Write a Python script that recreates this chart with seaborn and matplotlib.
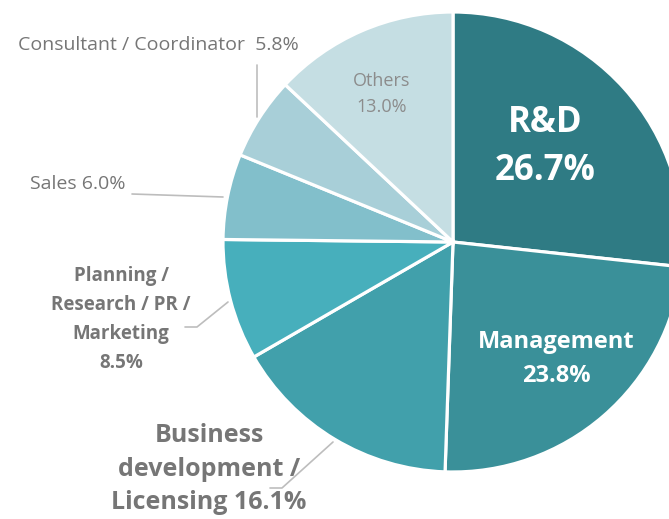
import matplotlib
matplotlib.use("Agg")
import matplotlib.pyplot as plt
import seaborn as sns

# share of staff by job type (clockwise from 12 o'clock)
categories = ["R&D", "Management", "Business development / Licensing",
              "Planning / Research / PR / Marketing", "Sales",
              "Consultant / Coordinator", "Others"]
shares = [26.7, 23.8, 16.1, 8.5, 6.0, 5.8, 13.0]
colors = ["#2f7b84", "#3a9099", "#41a0ab", "#47afbc", "#82bfcb", "#a8cfd8", "#c5dee3"]

sns.set_theme(style="white")
plt.rcParams['font.family'] = ['Open Sans', 'DejaVu Sans']

W, H = 669, 519
cx, cy, R = 453, 242, 230

fig = plt.figure(figsize=(W / 100, H / 100), dpi=100)
ax = fig.add_axes([0, 0, 1, 1])

ax.pie(shares, colors=colors, startangle=90, counterclock=False, radius=1,
       wedgeprops=dict(edgecolor="white", linewidth=2.3))
ax.set_aspect("auto")
ax.set_xlim(-cx / R, (W - cx) / R)
ax.set_ylim(-(H - cy) / R, cy / R)
ax.axis("off")


def px(x, y):
    return (x - cx) / R, (cy - y) / R


gray = "#767676"
lc = "#bdbdbd"

def label(x, y, s, **kw):
    ax.text(*px(x, y), s, va="center", **kw)

label(382, 94, "Others\n13.0%", ha="center", color="#8c8c8c", fontsize=13, linespacing=1.6)
label(545, 147, "R&D\n26.7%", ha="center", color="white", fontsize=25, fontweight="bold", linespacing=1.45)
label(556, 359, "Management\n23.8%", ha="center", color="white", fontsize=17, fontweight="bold", linespacing=1.6)
label(209, 469, "Business\ndevelopment /\nLicensing 16.1%", ha="center", color=gray, fontsize=18,
      fontweight="bold", linespacing=1.45)
label(121, 319, "Planning /\nResearch / PR /\nMarketing\n8.5%", ha="center", color=gray, fontsize=13.5,
      fontweight="bold", linespacing=1.6)
label(30, 184, "Sales 6.0%", ha="left", color=gray, fontsize=14)
label(18, 45, "Consultant / Coordinator  5.8%", ha="left", color=gray, fontsize=14)

# leader lines
for pts in [[(257, 65), (257, 117)],
            [(132, 194), (223, 197)],
            [(185, 327), (197, 327), (228, 302)],
            [(270, 488), (282, 488), (333, 442)]]:
    xs, ys = zip(*[px(*p) for p in pts])
    ax.plot(xs, ys, color=lc, lw=1.2)

fig.savefig("out.png", dpi=100)
